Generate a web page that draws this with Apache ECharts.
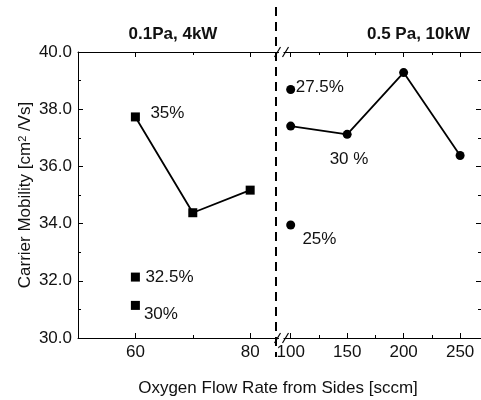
<!DOCTYPE html>
<html>
<head>
<meta charset="utf-8">
<script src="https://cdn.jsdelivr.net/npm/echarts@6/dist/echarts.min.js"></script>
<style>
  html, body { margin: 0; padding: 0; background: #fff; }
  #chart { width: 481px; height: 400px; }
</style>
</head>
<body>
<div id="chart"></div>
<script>
// ---- data ----
// 0.1 Pa, 4 kW (square markers)
const lowFlow = [60, 70, 80];
const low35 = [37.73, 34.38, 35.17];
const low325 = [[60, 32.13]];
const low30 = [[60, 31.14]];

// 0.5 Pa, 10 kW (round markers)
const highFlow = [100, 150, 200, 250];
const high30 = [37.41, 37.12, 39.28, 36.38];
const high275 = [[100, 38.69]];
const high25 = [[100, 33.95]];

// axis ticks
const lowMajorTicks = [60, 80];
const lowMinorTicks = [70];
const highMajorTicks = [100, 150, 200, 250];
const highMinorTicks = [125, 175, 225];
const lowRange = [50, 84.5];
const highRange = [87, 268.5];
const yRange = [30, 40];
const yStep = 2;

const FONT = '"Liberation Sans", Arial, sans-serif';
const INK = '#111';

// ---- axes ----
function xAxis(gridIndex, position, range, ticks, tickLen, showLine, showLabels) {
  return {
    type: 'value', gridIndex, position,
    min: range[0], max: range[1],
    axisLine: { show: showLine, lineStyle: { color: '#000', width: 1 } },
    axisTick: { show: true, inside: true, length: tickLen, customValues: ticks,
                lineStyle: { color: '#000', width: 1 } },
    axisLabel: { show: showLabels, customValues: ticks, margin: 6,
                 color: INK, fontSize: 17, fontFamily: FONT },
    splitLine: { show: false }
  };
}

function yAxis(gridIndex, position, showLabels, extra) {
  return Object.assign({
    type: 'value', gridIndex, position,
    min: yRange[0], max: yRange[1], interval: yStep,
    axisLine: { show: true, lineStyle: { color: '#000', width: 1 } },
    axisTick: { show: true, inside: true, length: 5, lineStyle: { color: '#000', width: 1 } },
    minorTick: { show: true, splitNumber: 2, length: 3, lineStyle: { color: '#000', width: 1 } },
    axisLabel: { show: showLabels, margin: 6, color: INK, fontSize: 17, fontFamily: FONT,
                 formatter: v => v.toFixed(1) },
    splitLine: { show: false }
  }, extra || {});
}

// ---- point labels ----
function tag(text, dx, dy) {
  return {
    show: true, position: 'inside', formatter: text,
    align: 'left', verticalAlign: 'middle', offset: [dx, dy],
    color: INK, fontSize: 17, fontFamily: FONT
  };
}

function withLabel(points, index, label) {
  return points.map((p, i) => i === index ? { value: p, label } : { value: p });
}

const lineStyle = { color: '#000', width: 1.8 };
const markStyle = { color: '#000' };

function seriesDef(xi, yi, symbol, size, data, connect) {
  return {
    type: 'line', xAxisIndex: xi, yAxisIndex: yi,
    symbol, symbolSize: size, showSymbol: true,
    lineStyle: connect ? lineStyle : { width: 0, opacity: 0 },
    itemStyle: markStyle,
    data, animation: false, z: 5
  };
}

const option = {
  backgroundColor: '#fff',
  animation: false,
  grid: [
    { left: 78, top: 52, width: 198, height: 286 },
    { left: 276, top: 52, width: 208, height: 286 }
  ],
  xAxis: [
    xAxis(0, 'bottom', lowRange, lowMajorTicks, 5, true, true),
    xAxis(0, 'bottom', lowRange, lowMinorTicks, 3, false, false),
    xAxis(0, 'top', lowRange, lowMajorTicks, 5, true, false),
    xAxis(0, 'top', lowRange, lowMinorTicks, 3, false, false),
    xAxis(1, 'bottom', highRange, highMajorTicks, 5, true, true),
    xAxis(1, 'bottom', highRange, highMinorTicks, 3, false, false),
    xAxis(1, 'top', highRange, highMajorTicks, 5, true, false),
    xAxis(1, 'top', highRange, highMinorTicks, 3, false, false)
  ],
  yAxis: [
    yAxis(0, 'left', true, {
      name: '{a|Carrier Mobility [cm}{s|2}{a| /Vs]}',
      nameLocation: 'middle', nameRotate: 90, nameGap: 44,
      nameTextStyle: {
        color: INK, fontFamily: FONT, fontSize: 17,
        rich: {
          a: { fontSize: 17, fontFamily: FONT, color: INK },
          s: { fontSize: 11, fontFamily: FONT, color: INK, verticalAlign: 'top' }
        }
      }
    }),
    yAxis(1, 'right', false)
  ],
  series: [
    seriesDef(0, 0, 'rect', 9,
      withLabel(lowFlow.map((x, i) => [x, low35[i]]), 0, tag('35%', 15, -4)), true),
    seriesDef(0, 0, 'rect', 9, withLabel(low325, 0, tag('32.5%', 10, 0)), false),
    seriesDef(0, 0, 'rect', 9, withLabel(low30, 0, tag('30%', 8.5, 9)), false),
    seriesDef(4, 1, 'circle', 9,
      withLabel(highFlow.map((x, i) => [x, high30[i]]), 1, tag('30 %', -17.5, 25)), true),
    seriesDef(4, 1, 'circle', 9, withLabel(high275, 0, tag('27.5%', 5, -2.6)), false),
    seriesDef(4, 1, 'circle', 9, withLabel(high25, 0, tag('25%', 11.7, 14)), false)
  ]
};

const chart = echarts.init(document.getElementById('chart'), null, { renderer: 'canvas' });
chart.setOption(option);

// ---- axis break, section titles and x-axis title ----
const xBreak = chart.convertToPixel({ xAxisIndex: 0 }, lowRange[1]);
const yTop = chart.convertToPixel({ yAxisIndex: 0 }, yRange[1]);
const yBottom = chart.convertToPixel({ yAxisIndex: 0 }, yRange[0]);

function breakMarks(y) {
  const marks = [];
  [xBreak + 1.5, xBreak + 9.5].forEach(cx => {
    marks.push({
      type: 'line', z: 101,
      shape: { x1: cx - 3, y1: y + 5, x2: cx + 3, y2: y - 5 },
      style: { stroke: '#000', lineWidth: 1.2 }
    });
  });
  marks.push({
    type: 'rect', z: 100,
    shape: { x: xBreak + 3, y: y - 1.5, width: 4.5, height: 3 },
    style: { fill: '#fff' }
  });
  return marks;
}

const titleFont = 'bold 17px ' + FONT;
chart.setOption({
  graphic: [
    {
      type: 'line', z: 102,
      shape: { x1: xBreak, y1: 7, x2: xBreak, y2: 357 },
      style: { stroke: '#000', lineWidth: 2, lineDash: [9, 6] }
    },
    ...breakMarks(yTop),
    ...breakMarks(yBottom),
    {
      type: 'text', z: 100, x: 173, y: 34,
      style: { text: '0.1Pa, 4kW', font: titleFont, fill: INK, align: 'center', verticalAlign: 'middle' }
    },
    {
      type: 'text', z: 100, x: 470, y: 34,
      style: { text: '0.5 Pa, 10kW', font: titleFont, fill: INK, align: 'right', verticalAlign: 'middle' }
    },
    {
      type: 'text', z: 100, x: 278, y: 388,
      style: { text: 'Oxygen Flow Rate from Sides [sccm]', font: '17px ' + FONT, fill: INK,
               align: 'center', verticalAlign: 'middle' }
    }
  ]
});
</script>
</body>
</html>
